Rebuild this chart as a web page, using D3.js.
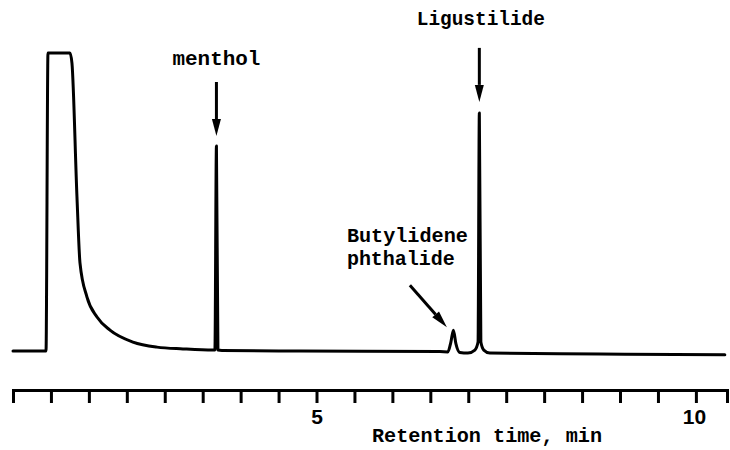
<!DOCTYPE html>
<html lang="en">
<head>
    <meta charset="UTF-8">
    <script src="https://d3js.org/d3.v7.min.js"></script>
    <title>Chromatogram</title>
    <style>
        body {
            margin: 0;
            background-color: #fff;
        }
        .trace {
            fill: none;
            stroke: #000;
            stroke-width: 3px;
            stroke-linejoin: round;
            stroke-linecap: round;
        }
        .label {
            font-family: 'Liberation Mono', monospace;
            font-weight: bold;
            font-size: 21px;
            fill: #000;
        }
        .axis path, .axis line {
            stroke: #000;
            stroke-width: 3px;
        }
        .axis text {
            font-family: 'Liberation Sans', sans-serif;
            font-weight: bold;
            font-size: 21px;
            fill: #000;
        }
    </style>
</head>
<body>
    <svg width="730" height="450"></svg>
    <script>
        // Trace: retention time (min) and detector signal (% of full scale)
        const times = [1.000, 1.435, 1.461, 1.751, 1.777, 1.843, 1.883, 1.975, 2.107, 2.278,
                       2.581, 2.897, 3.240, 3.635, 3.661, 3.681, 3.701, 3.754, 4.781, 6.626,
                       6.731, 6.771, 6.804, 6.837, 6.889, 6.995, 7.087, 7.129, 7.146, 7.166,
                       7.205, 7.285, 8.734, 10.381];
        const signal = [0, 0, 100, 100, 96.6, 51.7, 29.5, 18.1, 11.4, 7.0,
                        3.0, 1.3, 0.7, 0.3, 0.3, 68.8, 0.3, 0.2, 0, -0.2,
                        -0.3, 3.0, 7.0, 2.5, -0.5, -0.7, 0.3, 3.0, 79.9, 3.0,
                        0.3, -0.7, -1.0, -1.3];

        // Labelled peaks
        const peakNames = ["menthol", "Butylidene phthalide", "Ligustilide"];
        const peakTimes = [3.681, 6.804, 7.146];
        const peakHeights = [68.8, 7.0, 79.9];

        // Axis ticks
        const tickValues = d3.range(1, 10.01, 0.5);
        const tickLabels = { 5: "5", 10: "10" };
        const xTitle = "Retention time, min";

        const svg = d3.select("svg");

        const x = d3.scaleLinear()
            .domain([1, 10.41])
            .range([13, 727]);

        const y = d3.scaleLinear()
            .domain([0, 100])
            .range([351, 53]);

        // Chromatogram trace
        const line = d3.line()
            .x((d, i) => x(times[i]))
            .y(d => y(d))
            .curve(d3.curveMonotoneX);

        svg.append("path")
            .datum(signal)
            .attr("class", "trace")
            .attr("d", line);

        // Time axis
        svg.append("g")
            .attr("class", "axis")
            .attr("transform", "translate(0,390)")
            .call(d3.axisBottom(x)
                .tickValues(tickValues)
                .tickSize(13)
                .tickSizeOuter(13)
                .tickPadding(3)
                .tickFormat(d => tickLabels[d] || ""));

        svg.select(".axis").selectAll(".tick text")
            .attr("dx", d => d === 10 ? "-2" : "0")
            .attr("dy", "0.85em");

        svg.append("text")
            .attr("class", "label")
            .attr("x", 372)
            .attr("y", 442)
            .attr("textLength", 230)
            .attr("lengthAdjust", "spacingAndGlyphs")
            .text(xTitle);

        // Annotation layout (pixel offsets relative to peak top)
        const layout = [
            { tail: [0, -64], tip: [0, -10], text: [0, -81], anchor: "middle", widths: [88] },
            { tail: [-43.5, -45], tip: [-6.5, -3], text: [-106.5, -88], anchor: "start", widths: [121, 108] },
            { tail: [0, -65], tip: [0, -11], text: [1.5, -88], anchor: "middle", widths: [128] }
        ];

        function arrow(x1, y1, x2, y2, headLen, headHalf) {
            const a = Math.atan2(y2 - y1, x2 - x1);
            const bx = x2 - headLen * Math.cos(a);
            const by = y2 - headLen * Math.sin(a);
            const nx = -Math.sin(a) * headHalf;
            const ny = Math.cos(a) * headHalf;
            svg.append("line")
                .attr("x1", x1).attr("y1", y1)
                .attr("x2", bx).attr("y2", by)
                .attr("stroke", "#000")
                .attr("stroke-width", 3);
            svg.append("path")
                .attr("d", `M${x2},${y2}L${bx + nx},${by + ny}L${bx - nx},${by - ny}Z`)
                .attr("fill", "#000");
        }

        peakNames.forEach((name, i) => {
            const px = x(peakTimes[i]);
            const py = y(peakHeights[i]);
            const l = layout[i];
            arrow(px + l.tail[0], py + l.tail[1], px + l.tip[0], py + l.tip[1], 17, 4.5);
            name.split(" ").forEach((word, j) => {
                svg.append("text")
                    .attr("class", "label")
                    .attr("x", px + l.text[0])
                    .attr("y", py + l.text[1] + j * 23)
                    .attr("text-anchor", l.anchor)
                    .attr("textLength", l.widths[j])
                    .attr("lengthAdjust", "spacingAndGlyphs")
                    .text(word);
            });
        });
    </script>
</body>
</html>
